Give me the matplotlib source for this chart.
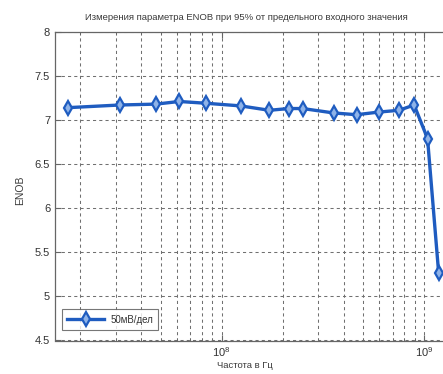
import matplotlib
matplotlib.use("Agg")
import matplotlib.pyplot as plt
from matplotlib.ticker import LogLocator, NullFormatter, FormatStrFormatter

plt.rcParams["font.family"] = ["Liberation Sans", "DejaVu Sans"]

# данные
freq_hz = [1.74e7, 3.13e7, 4.73e7, 6.17e7, 8.34e7, 1.24e8, 1.72e8, 2.14e8,
           2.51e8, 3.57e8, 4.64e8, 5.98e8, 7.51e8, 8.93e8, 1.04e9, 1.18e9]
enob = [7.14, 7.17, 7.18, 7.21, 7.19, 7.16, 7.11, 7.13,
        7.13, 7.08, 7.06, 7.09, 7.11, 7.17, 6.79, 5.27]
y_ticks = [4.5, 5, 5.5, 6, 6.5, 7, 7.5, 8]
series_label = "50мВ/дел"
title = "Измерения параметра ENOB при 95% от предельного входного значения"

W, H = 443, 374
fig = plt.figure(figsize=(W / 100, H / 100), dpi=100)
# ось обрезана справа, как на исходной картинке
left, right, top, bottom = 55, 485, 31.8, 340.5
ax = fig.add_axes([left / W, (H - bottom) / H, (right - left) / W, (bottom - top) / H])

blue = "#1f5cc0"
ax.plot(freq_hz, enob, color=blue, lw=2.4, marker="d", ms=7, mfc="#8fb3e8",
        mec=blue, mew=1.6, label=series_label, zorder=3)

ax.set_xscale("log")
ax.set_xlim(1.5e7, 2e9)
ax.set_ylim(4.5, 8)
ax.set_yticks(y_ticks)
ax.yaxis.set_major_formatter(FormatStrFormatter("%g"))
ax.xaxis.set_minor_locator(LogLocator(base=10, subs=range(2, 10)))
ax.xaxis.set_minor_formatter(NullFormatter())

grid_kw = dict(color="#707070", lw=0.75, ls=(0, (3, 3)))
ax.grid(True, which="major", axis="both", **grid_kw)
ax.grid(True, which="minor", axis="x", **grid_kw)

for s in ax.spines.values():
    s.set_color("#666666")
    s.set_linewidth(0.9)
ax.tick_params(which="both", direction="in", top=True, right=True,
               colors="#666666", labelcolor="#333333", labelsize=8)
ax.tick_params(which="major", length=4)
ax.tick_params(which="minor", length=2.5)

leg = ax.legend(loc="lower left", bbox_to_anchor=(0.005, 0.018), fontsize=7,
                frameon=True, fancybox=False, handlelength=3.8,
                borderpad=0.55, handletextpad=0.6, borderaxespad=0.5)
leg.get_frame().set_edgecolor("#555555")
leg.get_frame().set_linewidth(0.8)
for t in leg.get_texts():
    t.set_color("#333333")

fig.text(246 / W, 1 - 17 / H, title, ha="center", va="center", fontsize=6.8,
         color="#3a3a3a")
fig.text(245 / W, 1 - 366 / H, "Частота в Гц", ha="center", va="center",
         fontsize=6.8, color="#3a3a3a")
fig.text(20 / W, 1 - 190 / H, "ENOB", ha="center", va="center", rotation=90,
         fontsize=7.5, color="#3a3a3a")

fig.savefig("out.png", dpi=100)
